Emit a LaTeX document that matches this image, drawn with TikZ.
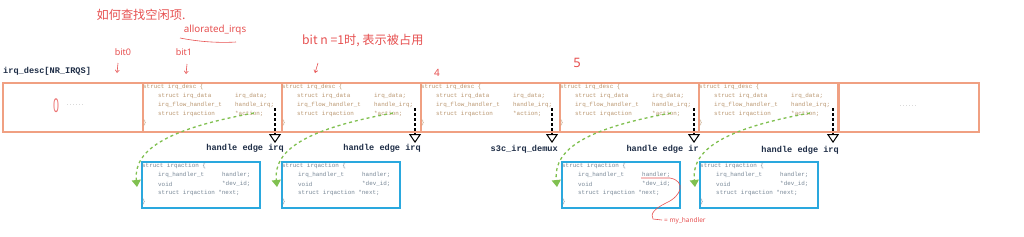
\documentclass[tikz,border=0pt]{standalone}
\usepackage{fontspec}
\newfontfamily\codefont{Liberation Mono}
\newfontfamily\cjkfont{Noto Sans CJK SC}
\newfontfamily\handfont{Noto Sans}
\usetikzlibrary{arrows.meta}
\definecolor{cellline}{RGB}{240,160,130}
\definecolor{celltext}{RGB}{185,150,112}
\definecolor{actionblue}{RGB}{42,168,222}
\definecolor{actiontext}{RGB}{120,135,150}
\definecolor{greenarr}{RGB}{128,192,80}
\definecolor{navy}{RGB}{30,45,70}
\definecolor{handred}{RGB}{230,80,80}
\definecolor{dotgrey}{RGB}{165,165,165}
\begin{document}
\begin{tikzpicture}[x=1pt,y=-1pt,
  cell/.style={draw=cellline, line width=1.8pt, minimum height=49pt, inner sep=0pt, anchor=north west},
  abox/.style={draw=actionblue, line width=1.8pt, minimum width=118pt, minimum height=46pt, inner sep=0pt, anchor=north west},
  code/.style={font=\codefont\fontsize{5.9}{7}\selectfont, text=celltext, anchor=west, inner sep=0pt},
  bcode/.style={font=\codefont\fontsize{5.9}{7}\selectfont, text=actiontext, anchor=west, inner sep=0pt},
  lab/.style={font=\codefont\bfseries\fontsize{8.6}{10}\selectfont, text=navy, inner sep=0pt},
  hand/.style={font=\handfont\fontsize{9}{10}\selectfont, text=handred, inner sep=0pt},
  handcjk/.style={font=\cjkfont\fontsize{12.2}{13}\selectfont, text=handred, inner sep=0pt},
  handline/.style={draw=handred, line width=0.6pt},
  handarrow/.style={draw=handred, line width=0.6pt, -{Straight Barb[length=2.5pt,width=4pt]}},
  blackarrow/.style={draw=black, line width=1.5pt, dash pattern=on 3pt off 2pt, -{Triangle[open, length=9pt, width=12pt, line width=1pt]}},
  greenarrow/.style={draw=greenarr, line width=1.3pt, dash pattern=on 3pt off 3pt, -{Triangle[length=7pt, width=9pt]}},
  dotted text/.style={font=\codefont\fontsize{5}{6}\selectfont, text=dotgrey, inner sep=0pt}
]
\useasboundingbox (0,0) rectangle (1024,236);

% title
\node[lab, anchor=west] (title) at (3,71) {irq\_desc[NR\_IRQS]};

% cells
\node[cell, minimum width=140pt] (c0) at (2,82) {};
\node[cell, minimum width=139pt] (c1) at (142,82) {};
\node[cell, minimum width=139pt] (c2) at (281,82) {};
\node[cell, minimum width=139pt] (c3) at (420,82) {};
\node[cell, minimum width=139pt] (c4) at (559,82) {};
\node[cell, minimum width=139pt] (c5) at (698,82) {};
\node[cell, minimum width=140pt] (c6) at (838,82) {};

\node[font=\handfont\fontsize{19}{20}\selectfont, text=handred!80, inner sep=0pt] (zero) at (56,106) {\scalebox{0.55}[1]{0}};
\node[dotted text, anchor=west] (dots0) at (66,105) {......};
\node[dotted text] (dots6) at (908,106) {......};

% irq_desc contents
\foreach \n/\xl in {1/142,2/281,3/420,4/559,5/698}{
  \node[code] (d\n-a) at (\xl+1,87) {struct irq\_desc \{};
  \node[code] (d\n-b) at (\xl+16,96) {struct irq\_data};
  \node[code] (d\n-c) at (\xl+93,96) {irq\_data;};
  \node[code] (d\n-d) at (\xl+16,105) {irq\_flow\_handler\_t};
  \node[code] (d\n-e) at (\xl+93,105) {handle\_irq;};
  \node[code] (d\n-f) at (\xl+16,114) {struct irqaction};
  \node[code] (d\n-g) at (\xl+93,114) {*action;};
  \node[code] (d\n-h) at (\xl+1,123) {\}};
}

% black dashed arrows
\foreach \n/\xa in {1/275,2/415,3/552,4/694,5/833}{
  \coordinate (k\n-s) at (\xa,108);
  \coordinate (k\n-e) at (\xa,143);
  \draw[blackarrow] (k\n-s) -- (k\n-e);
}

% labels
\node[lab, anchor=east] (l1) at (284,148) {handle edge irq};
\node[lab, anchor=east] (l2) at (421,148) {handle edge irq};
\node[lab, anchor=east] (l3) at (558,149) {s3c\_irq\_demux};
\node[lab, anchor=east] (l4) at (699,149) {handle edge ir};
\node[lab, anchor=east] (l5) at (839,150) {handle edge irq};

% irqaction boxes
\foreach \n/\xl/\cl in {1/141/142,2/281/281,4/561/559,5/699/698}{
  \node[abox] (b\n) at (\xl,161) {};
  \node[bcode] (a\n-a) at (\xl+1,166) {struct irqaction \{};
  \node[bcode] (a\n-b) at (\xl+17,175) {irq\_handler\_t};
  \node[bcode] (a\n-c) at (\xl+81,175) {handler;};
  \node[bcode] (a\n-d) at (\xl+17,184) {void};
  \node[bcode] (a\n-e) at (\xl+81,184) {*dev\_id;};
  \node[bcode] (a\n-f) at (\xl+17,193) {struct irqaction *next;};
  \node[bcode] (a\n-g) at (\xl+1,202) {\}};
  \coordinate (g\n-s) at (\cl+112,113);
  \coordinate (g\n-e) at (\xl-4,187);
  \draw[greenarrow] (g\n-s) .. controls (\cl+30,128) and (\xl-8,148) .. (g\n-e);
}

% handwritten annotations
\node[handcjk] (q) at (141,15) {如何查找空闲项.};
\node[hand, font=\handfont\fontsize{9.8}{10}\selectfont] (alloc) at (215,30) {allorated\_irqs};
\draw[handline] (180,38) .. controls (200,42) and (220,43) .. (236,42);
\node[hand] (bit0) at (123,52) {bit0};
\node[hand] (bit1) at (184,52) {bit1};
\node[handcjk, anchor=west] (bitn) at (302,41) {bit n =1时, 表示被占用};
\node[hand, font=\handfont\fontsize{10}{10}\selectfont] (four) at (437,73) {4};
\node[hand, font=\handfont\fontsize{13}{13}\selectfont] (five) at (577,63) {5};
\coordinate (r0s) at (118,63); \coordinate (r0e) at (117,73);
\coordinate (r1s) at (187,64); \coordinate (r1e) at (186,74);
\coordinate (r2s) at (318,63); \coordinate (r2e) at (315,73);
\draw[handarrow] (r0s) -- (r0e);
\draw[handarrow] (r1s) -- (r1e);
\draw[handarrow] (r2s) -- (r2e);

\coordinate (h-s) at (641,178);
\coordinate (h-e) at (662,220);
\draw[handline] (h-s) -- (670,178) .. controls (686,181) and (682,196) .. (666,203) .. controls (654,209) and (650,214) .. (653,219) -- (h-e);
\node[hand, font=\handfont\fontsize{6.5}{7}\selectfont, anchor=west] (myh) at (664,221) {= my\_handler};
\end{tikzpicture}
\end{document}
